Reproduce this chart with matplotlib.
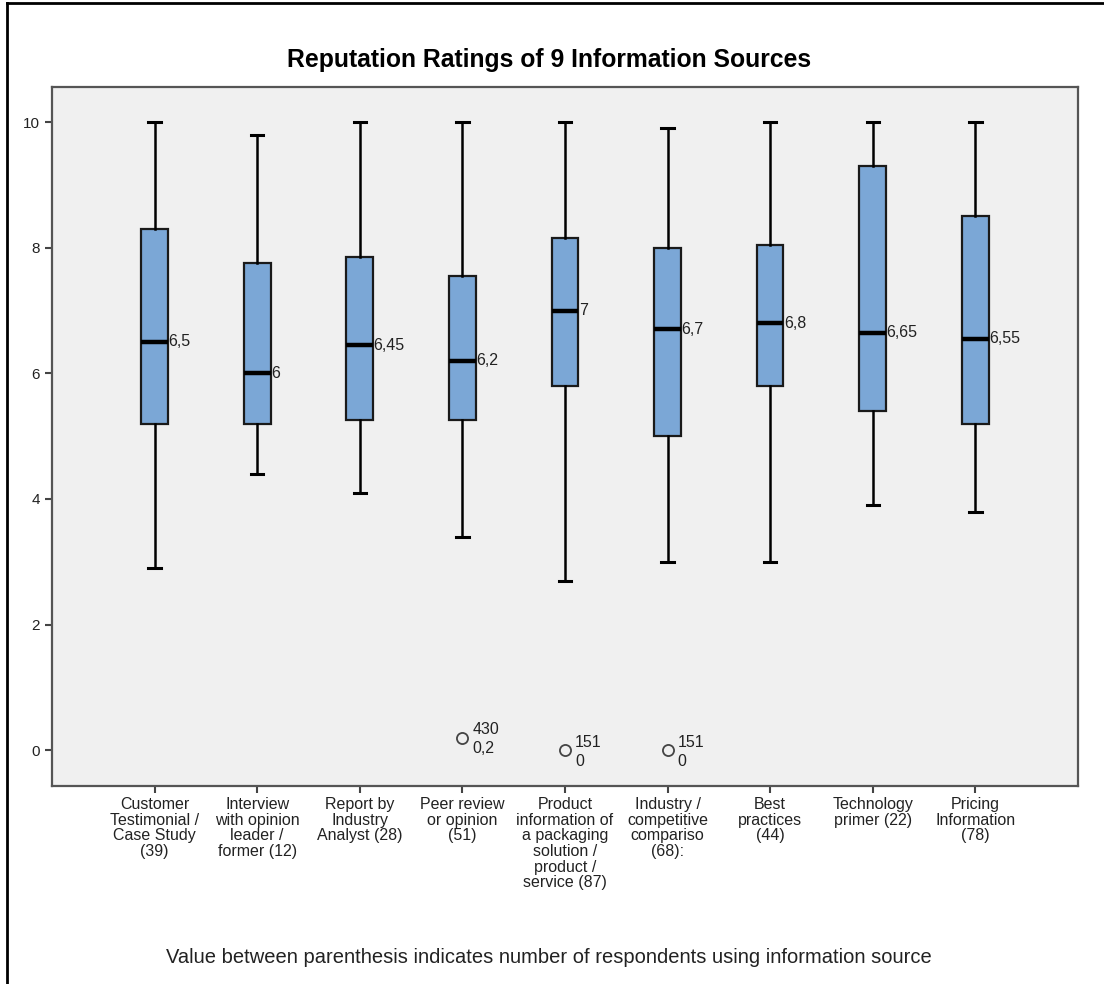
import matplotlib
matplotlib.use("Agg")
import matplotlib.pyplot as plt
from matplotlib.lines import Line2D

plt.rcParams["font.family"] = ["Liberation Sans", "DejaVu Sans"]

# data
labels = [
    "Customer\nTestimonial /\nCase Study\n(39)",
    "Interview\nwith opinion\nleader /\nformer (12)",
    "Report by\nIndustry\nAnalyst (28)",
    "Peer review\nor opinion\n(51)",
    "Product\ninformation of\na packaging\nsolution /\nproduct /\nservice (87)",
    "Industry /\ncompetitive\ncompariso\n(68):",
    "Best\npractices\n(44)",
    "Technology\nprimer (22)",
    "Pricing\nInformation\n(78)",
]
whis_lo = [2.9, 4.4, 4.1, 3.4, 2.7, 3.0, 3.0, 3.9, 3.8]
q1 = [5.2, 5.2, 5.25, 5.25, 5.8, 5.0, 5.8, 5.4, 5.2]
medians = [6.5, 6.0, 6.45, 6.2, 7.0, 6.7, 6.8, 6.65, 6.55]
q3 = [8.3, 7.75, 7.85, 7.55, 8.15, 8.0, 8.05, 9.3, 8.5]
whis_hi = [10.0, 9.8, 10.0, 10.0, 10.0, 9.9, 10.0, 10.0, 10.0]
median_text = ["6,5", "6", "6,45", "6,2", "7", "6,7", "6,8", "6,65", "6,55"]

# outliers: (box index, value, case id, value text)
outlier_box = [3, 4, 5]
outlier_val = [0.2, 0.0, 0.0]
outlier_case = ["430", "151", "151"]
outlier_text = ["0,2", "0", "0"]

fig = plt.figure(figsize=(11.04, 9.84), dpi=100)
ax = fig.add_axes([0.0471, 0.2012, 0.9293, 0.7104])
ax.set_facecolor("#f0f0f0")

stats = []
for i in range(len(labels)):
    fl = [v for b, v in zip(outlier_box, outlier_val) if b == i]
    stats.append(dict(med=medians[i], q1=q1[i], q3=q3[i],
                      whislo=whis_lo[i], whishi=whis_hi[i], fliers=fl))

positions = list(range(1, len(labels) + 1))
ax.bxp(stats, positions=positions, widths=0.26, patch_artist=True,
       boxprops=dict(facecolor="#7ba7d6", edgecolor="#1a1a1a", linewidth=1.6),
       medianprops=dict(color="black", linewidth=3.2, solid_capstyle="butt"),
       whiskerprops=dict(color="black", linewidth=1.8),
       capprops=dict(color="black", linewidth=2.2),
       capwidths=0.12,
       flierprops=dict(marker="o", markerfacecolor="none", markeredgecolor="#444444",
                       markersize=8, markeredgewidth=1.3))

for p, m, t in zip(positions, medians, median_text):
    ax.text(p + 0.135, m, t, ha="left", va="center", fontsize=11.5, color="#222222")

for b, v, c, t in zip(outlier_box, outlier_val, outlier_case, outlier_text):
    ax.annotate(c, (positions[b], v), xytext=(10, 8), textcoords="offset pixels",
                ha="left", va="center", fontsize=11.5, color="#222222")
    ax.annotate(t, (positions[b], v), xytext=(10, -11), textcoords="offset pixels",
                ha="left", va="center", fontsize=11.5, color="#222222")

ax.set_xlim(0, 10)
ax.set_ylim(-0.57, 10.56)
ax.set_yticks([0, 2, 4, 6, 8, 10])
ax.set_xticks(positions)
ax.set_xticklabels(labels, fontsize=11.5, linespacing=1.05)
ax.tick_params(axis="both", direction="out", length=5, width=1.5, color="#444444",
               labelsize=11, labelcolor="#222222")
ax.tick_params(axis="x", pad=3, labelsize=11.5)
for s in ax.spines.values():
    s.set_color("#555555")
    s.set_linewidth(1.6)

fig.suptitle("Reputation Ratings of 9 Information Sources", x=0.497, y=0.939,
             fontsize=17.8, fontweight="bold", va="center")
fig.text(0.497, 0.027, "Value between parenthesis indicates number of respondents using information source",
         ha="center", va="center", fontsize=14.5, color="#222222")

# outer frame of the exported chart (left and top edges only visible)
fig.add_artist(Line2D([0.0063, 0.0063], [0, 0.997], transform=fig.transFigure,
                      color="black", linewidth=2))
fig.add_artist(Line2D([0.0063, 1], [0.997, 0.997], transform=fig.transFigure,
                      color="black", linewidth=2))

fig.savefig("out.png", dpi=100)
